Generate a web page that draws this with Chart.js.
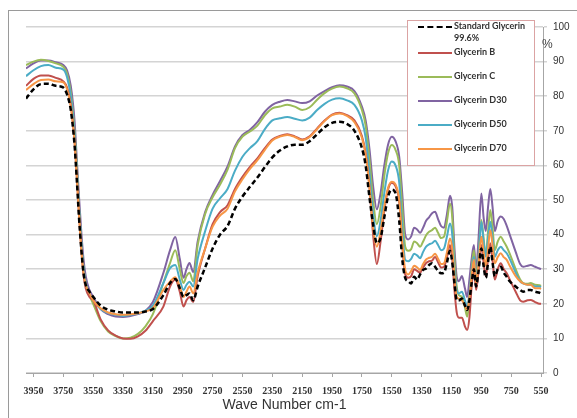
<!DOCTYPE html>
<html>
<head>
<meta charset="utf-8">
<script src="https://cdn.jsdelivr.net/npm/chart.js@4.4.1/dist/chart.umd.min.js"></script>
<style>
  html, body { margin: 0; padding: 0; background: #fff; }
  #wrap { position: relative; width: 577px; height: 418px; overflow: hidden; }
  #frame { position: absolute; left: 8px; top: 10px; width: 600px; height: 430px; border: 1px solid #9a9a9a; box-sizing: border-box; }
  canvas { position: absolute; left: 0; top: 0; }
  #legend { position: absolute; left: 407px; top: 20px; width: 128px; height: 146px; border: 1px solid #dba3a3; background: #fff; box-sizing: border-box; font: bold 9px Lato, sans-serif; color: #333; }
  .swatch { position: absolute; left: 10px; width: 34px; height: 0; }
  .label { position: absolute; left: 46px; white-space: nowrap; line-height: 12px; }
  #pct { position: absolute; left: 542px; top: 37px; font: 12px "Liberation Sans", sans-serif; color: #444; }
</style>
</head>
<body>
<div id="wrap">
  <div id="frame"></div>
  <canvas id="ftir" width="577" height="418"></canvas>
  <div id="legend"></div>
  <div id="pct">%</div>
</div>
<script>
// wave numbers (cm-1)
let waveNumbers = [
  4000, 3950, 3900, 3850, 3800, 3750, 3725, 3700, 3675, 3660,
  3645, 3630, 3615, 3600, 3575, 3550, 3500, 3450, 3400, 3350,
  3300, 3250, 3200, 3150, 3080, 3035, 3000, 2970, 2945, 2925,
  2905, 2880, 2850, 2800, 2750, 2700, 2650, 2600, 2550, 2500,
  2450, 2400, 2350, 2300, 2250, 2200, 2150, 2100, 2050, 2000,
  1950, 1900, 1850, 1800, 1750, 1725, 1700, 1675, 1650, 1625,
  1600, 1575, 1550, 1525, 1500, 1480, 1460, 1440, 1420, 1400,
  1380, 1360, 1340, 1320, 1300, 1280, 1260, 1240, 1220, 1200,
  1180, 1160, 1145, 1130, 1115, 1100, 1080, 1060, 1045, 1030,
  1015, 1000, 985, 970, 950, 935, 920, 905, 890, 875,
  860, 840, 820, 800, 780, 760, 720, 690, 670, 640,
  620, 590, 560, 550
];

let stdGlycerin = [
  79.3, 82, 83.5, 83.6, 83, 82.5, 80.5, 76, 66, 56,
  45, 36, 29, 25.5, 23.5, 22, 19.5, 18.3, 17.8, 17.5,
  17.5, 17.5, 17.8, 18.5, 22.5, 26, 27.2, 24.5, 22, 22.5,
  23, 21, 25, 30.5, 36, 40, 42.5, 47.5, 51, 53.8,
  56.5, 59.5, 62.3, 64.3, 65.5, 66, 66, 67, 69, 71,
  72.3, 72.6, 72, 70, 65, 60, 51, 43, 37.5, 39,
  45, 51, 53, 52, 44, 33, 27.5, 26.5, 25.9, 27.8,
  27, 28.5, 29.8, 30.2, 31.2, 31.7, 30.7, 29.5, 28.8, 29,
  32, 35.3, 32, 26, 21, 21, 21.5, 19.5, 18.2, 21,
  26, 30, 25, 29, 36, 31, 27.5, 32, 36.5, 32,
  28, 30, 30.7, 29, 27.8, 26.5, 25, 24, 23.5, 24,
  24, 23.5, 23.2, 23
];

let glycerinB = [
  83, 85, 86, 86, 85.3, 84.3, 82.5, 77.5, 67, 57,
  46, 36, 28.5, 24.5, 22, 21, 15.5, 12.3, 10.8, 10,
  9.9, 10.6, 12.2, 15, 19.2, 25, 27, 23.5, 19.2, 21,
  22, 20.5, 28, 36, 43, 46.5, 48.5, 53.2, 56.7, 59.6,
  62, 65, 67.5, 68.5, 69, 68.4, 67.5, 68.4, 70.7, 73,
  74.7, 75.2, 74.5, 73, 68.5, 63.5, 54, 40, 31.5, 38,
  47, 53, 55, 54, 49.5, 37, 28.5, 27.5, 28, 30,
  29.5, 29, 30.5, 31.8, 32.3, 32.5, 33.5, 32, 30.5, 30.7,
  33.5, 37, 33, 24, 17.5, 16, 16, 13.5, 12.4, 16,
  25, 30.7, 24, 29, 37, 32, 28, 33, 37.5, 32.5,
  27, 30, 31.7, 30, 28.8, 27, 23.5, 21, 20.6, 21,
  21.1, 20.5, 20, 20
];

let glycerinC = [
  89, 90, 90.5, 90.2, 89.5, 88.5, 86.5, 81, 70, 60,
  48, 38, 30.5, 26, 22.5, 20, 15, 12, 10.7, 10,
  10.2, 11.3, 13.5, 17, 26, 31.8, 35.5, 30, 26, 28,
  29, 26.5, 37, 46, 50.8, 54.5, 58.8, 65, 68.3, 69.8,
  71.5, 74.5, 76.5, 77, 77.5, 77, 76, 76.8, 79, 80.9,
  82.2, 82.8, 82.3, 80.8, 76, 71.5, 62, 50, 43, 48,
  57, 63.5, 65.9, 64.5, 60, 48, 36.5, 35.3, 35.8, 38,
  37.5, 36.5, 38, 39.8, 40.8, 41.3, 42, 40.5, 39, 39.4,
  44, 49, 45, 33, 25, 22.5, 22, 19, 16.3, 21,
  30, 35.5, 28, 33, 44.2, 39, 34, 41, 47.1, 42,
  35.5, 38, 39.4, 38, 36.5, 34.5, 30, 27, 26, 25.8,
  26, 25.5, 25.4, 25.2
];

let glycerinD30 = [
  88, 89.5, 90.3, 90.3, 89.8, 89, 87.5, 83, 73, 62,
  51, 41, 33, 28, 24, 22, 18.5, 17, 16.3, 16.2,
  16.5, 17, 18, 20.5, 28.9, 35.5, 39.3, 33, 27.5, 30,
  31.8, 29.2, 38, 46.5, 51.5, 55.5, 59.7, 65.5, 68.8, 70.3,
  72.5, 75.5, 77.5, 78.4, 78.9, 78.5, 78, 78.5, 80.2, 81.5,
  82.6, 83.2, 82.8, 81.5, 77, 73, 65, 54, 47.3, 52,
  60, 66, 68.3, 67, 62.5, 52, 40, 38.6, 39.5, 42,
  41.5, 40.5, 42, 44, 45, 46.2, 46.6, 44.5, 42.5, 42,
  46, 51.2, 48, 36, 27.8, 26.5, 28, 24.5, 22, 27,
  33, 37, 29.8, 38, 51.9, 45, 41, 48, 53.2, 48,
  41, 44, 45.2, 44.5, 42.5, 40, 35, 31.5, 30.7, 31,
  31.2, 30.7, 30.2, 30
];

let glycerinD50 = [
  85.8, 87.5, 88.7, 89, 88.2, 87.7, 85.5, 80, 69, 59,
  48, 38, 30.5, 26, 23, 21, 18.5, 17.3, 16.8, 16.5,
  16.8, 17.2, 18, 19.5, 26, 30.3, 31.2, 27, 24, 25.5,
  26.4, 25, 33, 41, 47.5, 50.5, 53.2, 58.5, 62.5, 65,
  67, 70.5, 73, 73.6, 74, 73.5, 73, 73.8, 76, 77.8,
  79, 79.4, 78.8, 77.5, 73, 68, 58, 46, 39.5, 44,
  52, 58.5, 61.1, 60, 55, 42, 32.7, 32.3, 33, 34.5,
  34, 33.2, 35, 36.5, 37.2, 37.5, 38.2, 37, 35.5, 36,
  39.5, 43.2, 40, 30, 24, 23, 23.5, 21, 19.2, 23,
  29, 33.6, 27, 32, 43.7, 38, 33.6, 39, 43.7, 39,
  33.6, 35.5, 36.5, 35.5, 34.6, 33, 29, 26.5, 25.9, 25.5,
  25.5, 25, 25, 24.8
];

let glycerinD70 = [
  81.8, 83.5, 84.7, 84.8, 84.3, 84, 82, 77, 67, 57,
  46, 36, 29, 25.5, 23, 21, 18.7, 17.5, 17, 16.8,
  17, 17.3, 17.8, 18.8, 24, 26.4, 27.7, 25, 22, 23.5,
  25, 23, 29, 36, 42.3, 45.5, 47.5, 52.5, 56, 59,
  61.5, 64.5, 67.2, 68.3, 68.8, 68.2, 67.3, 68.2, 70.5, 72.8,
  74.5, 75, 74.3, 72.5, 68, 63, 54, 42, 36.5, 41,
  48, 53.5, 55.3, 54.5, 50, 38, 29.8, 28.5, 29.5, 31,
  30.5, 29.8, 31.5, 32.8, 33.3, 33.6, 34.5, 33, 31.5, 31.7,
  35, 38.9, 36, 28, 22, 21.5, 21, 19.5, 18.2, 22,
  28, 32.7, 26, 31, 39.4, 35, 31, 36, 41.3, 37,
  31.7, 33.5, 34.6, 33.5, 32.7, 31, 28, 26.5, 25.9, 25.5,
  25.5, 24.5, 24.5, 24.3
];

let seriesNames = ['Standard Glycerin 99.6%', 'Glycerin B', 'Glycerin C', 'Glycerin D30', 'Glycerin D50', 'Glycerin D70'];
let xTickLabels = [3950, 3750, 3550, 3350, 3150, 2950, 2750, 2550, 2350, 2150, 1950, 1750, 1550, 1350, 1150, 950, 750, 550];

let spectra = [stdGlycerin, glycerinB, glycerinC, glycerinD30, glycerinD50, glycerinD70];
let colors = ['#000000', '#C0504D', '#9BBB59', '#8064A2', '#4BACC6', '#F79646'];
let drawOrder = [0, 2, 4, 5, 3, 1];

spectra.forEach((s, i) => {
    if (s.length != waveNumbers.length) throw new Error(seriesNames[i] + ' has ' + s.length + ' values');
});

let datasets = spectra.map((vals, i) => ({
    label: seriesNames[i],
    data: waveNumbers.map((w, j) => ({ x: w, y: vals[j] })),
    borderColor: colors[i],
    backgroundColor: colors[i],
    borderWidth: i == 0 ? 2.5 : 2,
    borderDash: i == 0 ? [5, 3] : [],
    pointRadius: 0,
    cubicInterpolationMode: 'monotone',
    order: drawOrder[i]
}));

let ctx = document.getElementById('ftir').getContext('2d');

let ftirChart = new Chart(ctx, {
    type: 'line',
    data: { datasets: datasets },
    options: {
        responsive: false,
        animation: false,
        layout: { padding: { left: 26, top: 27, right: 0, bottom: 0 } },
        plugins: {
            legend: { display: false },
            tooltip: { enabled: false }
        },
        scales: {
            x: {
                type: 'linear',
                reverse: true,
                min: 537,
                max: 4000,
                afterBuildTicks: axis => { axis.ticks = xTickLabels.map(v => ({ value: v })); },
                afterFit: axis => { axis.height = 45; },
                grid: { drawOnChartArea: false, drawTicks: true, tickLength: 4, color: '#a6a6a6' },
                border: { color: '#a6a6a6', width: 1 },
                ticks: {
                    autoSkip: false,
                    maxRotation: 0,
                    padding: 8,
                    color: '#333',
                    font: { family: 'Liberation Serif', size: 10, weight: 'bold' },
                    callback: v => String(v)
                },
                title: {
                    display: true,
                    text: 'Wave Number cm-1',
                    color: '#333',
                    font: { family: 'Liberation Sans', size: 14 },
                    padding: { top: 2, bottom: 4 }
                }
            },
            y: {
                position: 'right',
                min: 0,
                max: 100,
                afterFit: axis => { axis.width = 34; },
                grid: { color: '#d4d4d4', lineWidth: 1.5, tickLength: 4 },
                border: { color: '#a6a6a6', width: 1 },
                ticks: {
                    stepSize: 10,
                    padding: 6,
                    color: '#333',
                    font: { family: 'Liberation Sans', size: 10 }
                }
            }
        }
    }
});

// legend box drawn over the plot, like the original
let legend = document.getElementById('legend');
seriesNames.forEach((name, i) => {
    let top = i == 0 ? 5 : 31 + (i - 1) * 24;
    let sw = document.createElement('div');
    sw.className = 'swatch';
    sw.style.top = top + 'px';
    sw.style.borderTop = (i == 0 ? '2.5px dashed ' : '2px solid ') + colors[i];
    legend.appendChild(sw);
    let lb = document.createElement('div');
    lb.className = 'label';
    lb.style.top = (top - 6) + 'px';
    lb.innerHTML = i == 0 ? 'Standard Glycerin<br>99.6%' : name;
    legend.appendChild(lb);
});
</script>
</body>
</html>
